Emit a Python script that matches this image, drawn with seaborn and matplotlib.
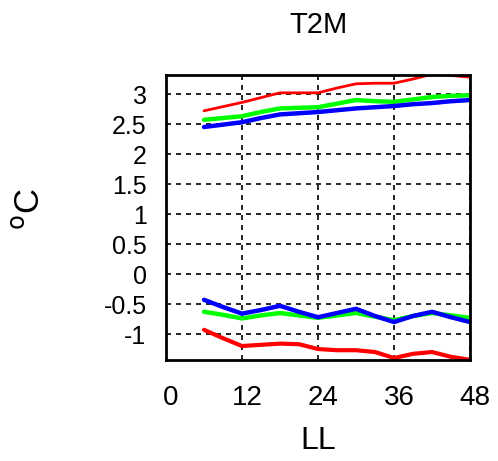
import numpy as np
import pandas as pd
import matplotlib
matplotlib.use("Agg")
import matplotlib.pyplot as plt
import matplotlib.transforms as mtransforms
import seaborn as sns

hours = [6, 9, 12, 15, 18, 21, 24, 27, 30, 33, 36, 39, 42, 45, 48]
red_upper = [2.72, 2.79, 2.86, 2.94, 3.02, 3.02, 3.02, 3.10, 3.17, 3.18, 3.18, 3.25, 3.33, 3.31, 3.28]
green_upper = [2.57, 2.60, 2.63, 2.70, 2.76, 2.77, 2.78, 2.84, 2.90, 2.88, 2.87, 2.91, 2.95, 2.97, 2.98]
blue_upper = [2.45, 2.49, 2.53, 2.60, 2.66, 2.68, 2.70, 2.73, 2.76, 2.78, 2.80, 2.83, 2.85, 2.88, 2.90]
blue_lower = [-0.43, -0.55, -0.66, -0.60, -0.53, -0.63, -0.72, -0.65, -0.58, -0.70, -0.80, -0.70, -0.63, -0.72, -0.80]
green_lower = [-0.63, -0.68, -0.74, -0.69, -0.65, -0.69, -0.73, -0.69, -0.65, -0.71, -0.77, -0.70, -0.65, -0.69, -0.73]
red_lower = [-0.93, -1.07, -1.20, -1.18, -1.16, -1.17, -1.25, -1.27, -1.27, -1.30, -1.40, -1.33, -1.30, -1.38, -1.43]

xticks = [0, 12, 24, 36, 48]
yticks = [-1, -0.5, 0, 0.5, 1, 1.5, 2, 2.5, 3]
ytick_labels = ["-1", "-0.5", "0", "0.5", "1", "1.5", "2", "2.5", "3"]

series = {
    "red_upper": (red_upper, "#ff0000", 2.0),
    "green_upper": (green_upper, "#00ff00", 3.2),
    "blue_upper": (blue_upper, "#0000ff", 3.2),
    "red_lower": (red_lower, "#ff0000", 3.0),
    "green_lower": (green_lower, "#00ff00", 3.2),
    "blue_lower": (blue_lower, "#0000ff", 3.2),
}

rows = []
for name, (vals, _, _) in series.items():
    for h, v in zip(hours, vals):
        rows.append({"LL": h, "value": v, "series": name})
df = pd.DataFrame(rows)

sns.set_style("white")
plt.rcParams["font.family"] = ["Liberation Sans", "DejaVu Sans"]
plt.rcParams["text.color"] = "black"
plt.rcParams["axes.labelcolor"] = "black"

fig = plt.figure(figsize=(4.98, 4.61), dpi=100)
ax = fig.add_axes([166 / 498, 1 - 360 / 461, (470 - 166) / 498, (360 - 75) / 461])

order = ["red_upper", "green_upper", "blue_upper", "red_lower", "green_lower", "blue_lower"]
for name in order:
    vals, color, lw = series[name]
    sns.lineplot(data=df[df["series"] == name], x="LL", y="value", color=color,
                 linewidth=lw, ax=ax, legend=False)

ax.set_xlim(0, 48)
ax.set_ylim(-1.433, 3.317)
ax.set_xticks(xticks)
ax.set_xticklabels([str(t) for t in xticks])
ax.set_yticks(yticks)
ax.set_yticklabels(ytick_labels)
ax.grid(True, color="black", linestyle=(0, (3, 3)), linewidth=1.2)
ax.tick_params(axis="both", direction="in", length=8, width=1.5,
               colors="black", labelcolor="black")
ax.tick_params(axis="x", labelsize=20, pad=18)
ax.tick_params(axis="y", labelsize=18, pad=14)
for sp in ax.spines.values():
    sp.set_color("black")
    sp.set_linewidth(2)
    sp.set_visible(True)

offset = mtransforms.ScaledTranslation(5 / 100, 0, fig.dpi_scale_trans)
for lab in ax.get_xticklabels():
    lab.set_transform(lab.get_transform() + offset)

ax.set_xlabel("LL", fontsize=23, labelpad=11, color="black")
ax.set_ylabel("$^{\\rm o}$C", fontsize=25, labelpad=0, color="black")
ax.yaxis.set_label_coords(-120 / 304, 0.53)
ax.set_title("T2M", fontsize=21, pad=30, color="black")

fig.savefig("out.png", dpi=100)
